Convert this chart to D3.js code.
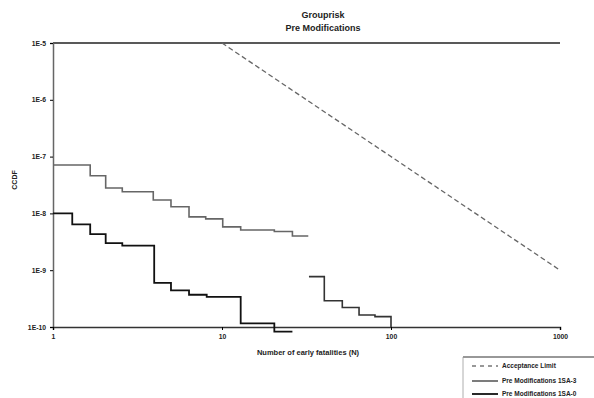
<!DOCTYPE html>
<html><head><meta charset="utf-8">
<script src="https://cdn.jsdelivr.net/npm/d3@7"></script>
<style>body{margin:0;background:#fff}svg{display:block;font-family:"Liberation Sans",Arial,sans-serif}</style>
</head><body>
<script>
const titleLines = ["Grouprisk", "Pre Modifications"];
const xTicks = [1, 10, 100, 1000];
const xTickLabels = ["1", "10", "100", "1000"];
const yTicks = [1e-5, 1e-6, 1e-7, 1e-8, 1e-9, 1e-10];
const yTickLabels = ["1E-5", "1E-6", "1E-7", "1E-8", "1E-9", "1E-10"];
const seriesNames = ["Acceptance Limit", "Pre Modifications 1SA-3", "Pre Modifications 1SA-0"];

// Acceptance limit line (N, F)
const accN = [10, 1000];
const accF = [1e-5, 1e-9];

// Series 1 (step, breakpoints N, level F applies from N[i] to N[i+1])
const s1N = [1, 1.66, 2.05, 2.57, 3.92, 4.99, 6.38, 8.01, 10.1, 12.9, 20.4, 26.1, 32.4];
const s1F = [7.1e-8, 4.6e-8, 2.8e-8, 2.4e-8, 1.72e-8, 1.31e-8, 8.7e-9, 8.0e-9, 5.8e-9, 5.1e-9, 4.8e-9, 4.0e-9];
const s1bN = [32.7, 40.3, 51.5, 64.7, 80.4, 100];
const s1bF = [7.7e-10, 2.9e-10, 2.2e-10, 1.63e-10, 1.52e-10];
const s1bEnd = 1e-10;

// Series 2
const s2N = [1, 1.30, 1.66, 2.05, 2.57, 3.97, 4.99, 6.38, 8.12, 12.9, 20.4, 26.1];
const s2F = [1.0e-8, 6.4e-9, 4.3e-9, 3.0e-9, 2.7e-9, 6.0e-10, 4.4e-10, 3.7e-10, 3.4e-10, 1.16e-10, 8.3e-11];

const W = 594, H = 398;
const svg = d3.select("body").append("svg").attr("width", W).attr("height", H);
const x = d3.scaleLog().domain([1, 1000]).range([53, 560]);
const y = d3.scaleLog().domain([1e-10, 1e-5]).range([327, 43]);

function stepPts(N, F, end) {
  const pts = F.map((f, i) => [N[i], f]);
  pts.push([N[N.length - 1], F[F.length - 1]]);
  if (end !== undefined) pts.push([N[N.length - 1], end]);
  return pts;
}
const stepLine = d3.line().x(d => x(d[0])).y(d => y(d[1])).curve(d3.curveStepAfter);
const straight = d3.line().x(d => x(d[0])).y(d => y(d[1]));

// title
svg.selectAll("text.title").data(titleLines).join("text")
  .attr("x", 323).attr("y", (d, i) => 18 + i * 13)
  .attr("text-anchor", "middle").attr("font-size", 9).attr("font-weight", "bold").attr("fill", "#222")
  .text(d => d);

// frame lines
svg.append("line").attr("x1", 53).attr("x2", 560).attr("y1", 43).attr("y2", 43).attr("stroke", "#222").attr("stroke-width", 1.3);

// axes
const yAxis = d3.axisLeft(y).tickValues(yTicks).tickSize(3).tickFormat((d, i) => yTickLabels[i]);
const gy = svg.append("g").attr("transform", "translate(53,0)").call(yAxis);
gy.select(".domain").attr("stroke", "#666").attr("stroke-width", 1.5);
gy.selectAll("text").attr("font-size", 6.8).attr("font-weight", "bold").attr("fill", "#222").attr("dx", "-1");

const xAxis = d3.axisBottom(x).tickValues(xTicks).tickSize(3).tickFormat((d, i) => xTickLabels[i]);
const gx = svg.append("g").attr("transform", "translate(0,327)").call(xAxis);
gx.select(".domain").attr("stroke", "#333").attr("stroke-width", 1.5);
gx.selectAll("text").attr("font-size", 6.8).attr("font-weight", "bold").attr("fill", "#222").attr("dy", "0.9em");

// axis titles
svg.append("text").attr("x", 308).attr("y", 355).attr("text-anchor", "middle")
  .attr("font-size", 7.5).attr("font-weight", "bold").attr("fill", "#222").text("Number of early fatalities (N)");
svg.append("text").attr("transform", "translate(17,180) rotate(-90)").attr("text-anchor", "middle")
  .attr("font-size", 7).attr("font-weight", "bold").attr("fill", "#222").text("CCDF");

// acceptance limit
svg.append("path").attr("d", straight(accN.map((n, i) => [n, accF[i]])))
  .attr("fill", "none").attr("stroke", "#666").attr("stroke-width", 1.3).attr("stroke-dasharray", "5,3");

// series 1
svg.append("path").attr("d", stepLine(stepPts(s1N, s1F)))
  .attr("fill", "none").attr("stroke", "#666").attr("stroke-width", 1.6);
svg.append("path").attr("d", stepLine(stepPts(s1bN, s1bF, s1bEnd)))
  .attr("fill", "none").attr("stroke", "#333").attr("stroke-width", 1.6);

// series 2
svg.append("path").attr("d", stepLine(stepPts(s2N, s2F)))
  .attr("fill", "none").attr("stroke", "#111").attr("stroke-width", 1.8);

// legend
const lg = svg.append("g");
lg.append("line").attr("x1", 463).attr("x2", 594).attr("y1", 357).attr("y2", 357).attr("stroke", "#333").attr("stroke-width", 1.2);
lg.append("line").attr("x1", 463).attr("x2", 463).attr("y1", 357).attr("y2", 398).attr("stroke", "#999").attr("stroke-width", 0.8);
const legY = [366, 381, 394];
const legStroke = ["#777", "#444", "#111"];
const legDash = ["4,4", null, null];
const legW = [1.3, 1.4, 1.8];
seriesNames.forEach((nm, i) => {
  lg.append("line").attr("x1", 472).attr("x2", 498).attr("y1", legY[i]).attr("y2", legY[i])
    .attr("stroke", legStroke[i]).attr("stroke-width", legW[i]).attr("stroke-dasharray", legDash[i]);
  lg.append("text").attr("x", 502).attr("y", legY[i] + 2.3).attr("font-size", 6.5).attr("font-weight", "bold")
    .attr("fill", "#222").text(nm);
});
</script>
</body></html>
